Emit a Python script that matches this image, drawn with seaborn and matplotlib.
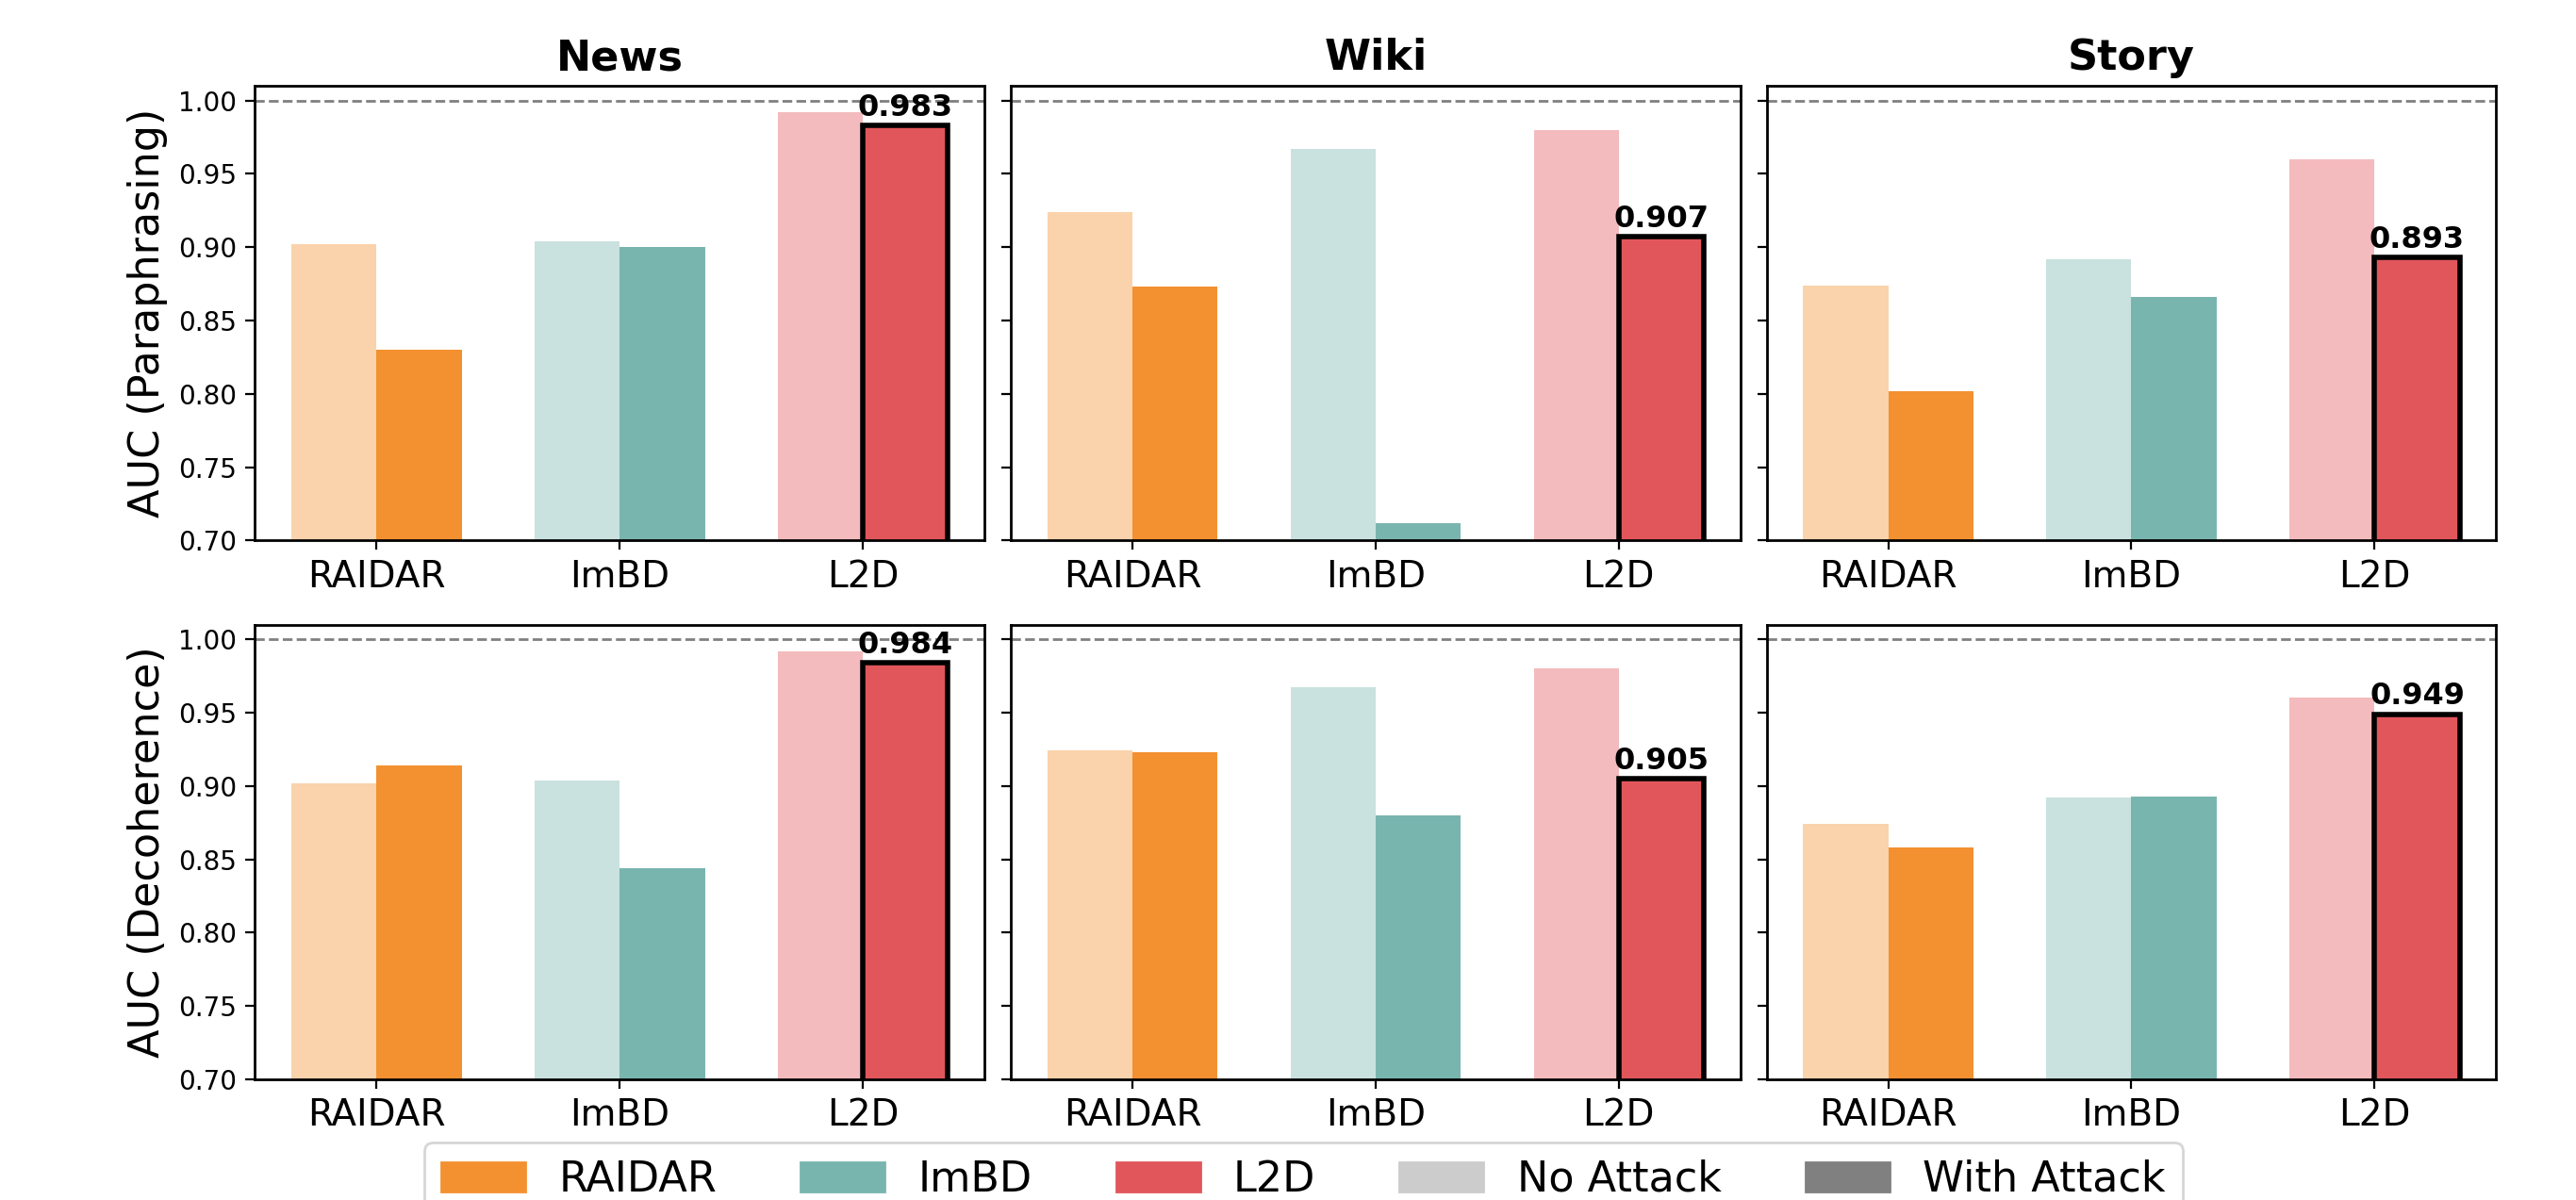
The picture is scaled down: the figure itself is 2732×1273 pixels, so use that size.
import pandas as pd
import matplotlib
matplotlib.use("Agg")
import matplotlib.pyplot as plt
import matplotlib.patches as mpatches
import seaborn as sns

# --- dados ---
methods = ["RAIDAR", "ImBD", "L2D"]
domains = ["News", "Wiki", "Story"]
attacks = ["Paraphrasing", "Decoherence"]

# AUC sem ataque (igual nas duas linhas)
no_attack = {
    "News": [0.902, 0.904, 0.992],
    "Wiki": [0.924, 0.967, 0.980],
    "Story": [0.874, 0.892, 0.960],
}
# AUC com ataque
with_paraphrasing = {
    "News": [0.830, 0.900, 0.983],
    "Wiki": [0.873, 0.712, 0.907],
    "Story": [0.802, 0.866, 0.893],
}
with_decoherence = {
    "News": [0.914, 0.844, 0.984],
    "Wiki": [0.923, 0.880, 0.905],
    "Story": [0.858, 0.893, 0.949],
}
with_attack = {"Paraphrasing": with_paraphrasing, "Decoherence": with_decoherence}

cores = {"RAIDAR": "#F39030", "ImBD": "#79B5AF", "L2D": "#E1565B"}
conds = ["No Attack", "With Attack"]

sns.set_style("ticks")
plt.rcParams.update({
    "axes.linewidth": 1.0,
    "axes.edgecolor": "black",
    "text.color": "black",
    "axes.labelcolor": "black",
    "xtick.color": "black",
    "ytick.color": "black",
})

fig, axes = plt.subplots(2, 3, figsize=(13.66, 6.365), dpi=200, sharey=True)
fig.subplots_adjust(left=0.099, right=0.969, top=0.9285, bottom=0.1006,
                    wspace=0.036, hspace=0.185)

for r, atk in enumerate(attacks):
    for c, dom in enumerate(domains):
        ax = axes[r, c]
        linhas = []
        for i, m in enumerate(methods):
            linhas.append({"Method": m, "Condition": "No Attack", "AUC": no_attack[dom][i]})
            linhas.append({"Method": m, "Condition": "With Attack", "AUC": with_attack[atk][dom][i]})
        df = pd.DataFrame(linhas)

        sns.barplot(data=df, x="Method", y="AUC", hue="Condition", order=methods,
                    hue_order=conds, width=0.7, errorbar=None, saturation=1,
                    legend=False, ax=ax)

        # recolore as barras: claro = sem ataque, forte = com ataque
        for h, cont in enumerate(ax.containers):
            for j, bar in enumerate(cont):
                bar.set_facecolor(cores[methods[j]])
                bar.set_edgecolor("none")
                if h == 0:
                    bar.set_alpha(0.4)
        # destaque L2D com ataque
        best = ax.containers[1][2]
        best.set_edgecolor("black")
        best.set_linewidth(2)
        val = with_attack[atk][dom][2]
        ax.text(best.get_x() + best.get_width() / 2, val + 0.002, f"{val:.3f}",
                ha="center", va="bottom", fontsize=11.5, fontweight="bold")

        ax.axhline(1.0, color="gray", linestyle="--", linewidth=1)
        ax.set_ylim(0.70, 1.01)
        ax.set_yticks([0.70, 0.75, 0.80, 0.85, 0.90, 0.95, 1.00])
        ax.set_xlabel("")
        ax.tick_params(axis="x", labelsize=14)
        ax.tick_params(axis="y", labelsize=10)
        if c == 0:
            ax.set_ylabel(f"AUC ({atk})", fontsize=16)
        else:
            ax.set_ylabel("")
        if r == 0:
            ax.set_title(dom, fontsize=16, fontweight="bold")

handles = [mpatches.Patch(color=cores[m], label=m) for m in methods]
handles.append(mpatches.Patch(color="#cccccc", label="No Attack"))
handles.append(mpatches.Patch(color="#808080", label="With Attack"))
fig.legend(handles=handles, loc="upper center", bbox_to_anchor=(0.506, 0.048),
           borderaxespad=0, ncol=5, fontsize=16)

fig.savefig("out.png", dpi=200)
